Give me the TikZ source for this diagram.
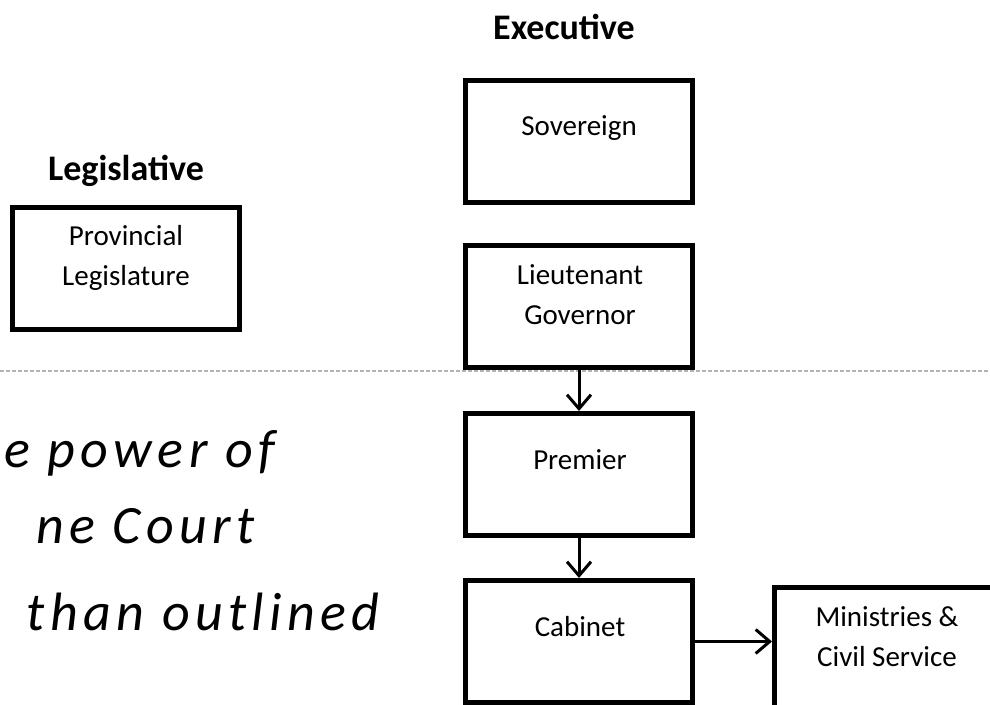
\documentclass[tikz,border=0pt]{standalone}
\usepackage{fontspec}
\setmainfont{Carlito}
\newfontfamily\handfont[LetterSpace=10]{Carlito}
\usetikzlibrary{arrows.meta}

\tikzset{
    unit/.style = {draw, line width=2.5pt, minimum width=113.5pt, minimum height=61pt, inner sep=0pt},
    lbl/.style = {font=\fontsize{14.5}{20}\selectfont, align=center},
    branch/.style = {font=\fontsize{18}{22}\selectfont\bfseries},
    flow/.style = {line width=1.5pt, -{Straight Barb[length=7pt,width=12pt]}},
    hand/.style = {font=\handfont\fontsize{27}{32}\selectfont\itshape, inner sep=0pt},
    scanline/.style = {black!30, line width=0.8pt, dash pattern=on 2pt off 1pt}
}

\begin{document}
\begin{tikzpicture}[x=0.5pt, y=-0.5pt]
    \useasboundingbox (0,0) rectangle (990,705);
    \clip (0,0) rectangle (990,705);

    \draw[scanline] (0,371) -- (990,371);

    \node[branch] (exec) at (564,27) {Executive};
    \node[branch] (legis) at (126,171) {Legislative};

    \node[unit] (sov) at (579,141.5) {};
    \node[lbl] (sovtxt) at (579,128) {Sovereign};

    \node[unit] (lg) at (579,306.5) {};
    \node[lbl] (lgtxt) at (580,295) {Lieutenant\\Governor};

    \node[unit] (prem) at (579,474.5) {};
    \node[lbl] (premtxt) at (580,460) {Premier};

    \node[unit] (cab) at (579,641.5) {};
    \node[lbl] (cabtxt) at (580,627) {Cabinet};

    \node[unit] (mins) at (888,648.5) {};
    \node[lbl] (minstxt) at (887,637) {Ministries \&\\Civil Service};

    \node[unit] (prov) at (126,268.5) {};
    \node[lbl] (provtxt) at (126,257.5) {Provincial\\Legislature};

    \draw[flow] (lg.south) -- (prem.north);
    \draw[flow] (prem.south) -- (cab.north);
    \draw[flow] (cab.east) -- (cab.east -| mins.west);

    % handwritten note
    \node[hand, anchor=base west] (note1) at (4,467) {e power of};
    \node[hand, anchor=base east] (note2) at (255,543) {ne Court};
    \node[hand, anchor=base east] (note3) at (380,630) {than outlined};
\end{tikzpicture}
\end{document}
